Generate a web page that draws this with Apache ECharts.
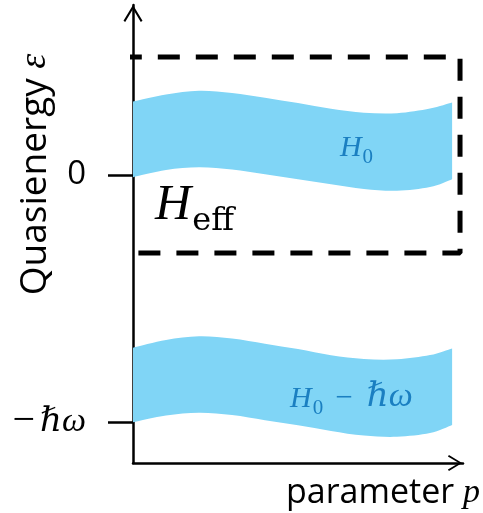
<!DOCTYPE html>
<html><head><meta charset="utf-8">
<script src="https://cdn.jsdelivr.net/npm/echarts@6/dist/echarts.min.js"></script>
<style>html,body{margin:0;padding:0;background:#fff}#c{width:483px;height:513px}</style>
</head><body><div id="c"></div>
<script>
// ---- data ----
const bandX = [0, 0.1, 0.2, 0.3, 0.4, 0.5, 0.6, 0.7, 0.8, 0.9, 0.967];
const h0Upper = [0.297, 0.326, 0.341, 0.332, 0.313, 0.291, 0.268, 0.252, 0.250, 0.269, 0.293];
const h0Lower = [-0.009, 0.020, 0.031, 0.022, 0.003, -0.017, -0.038, -0.057, -0.064, -0.049, -0.017];
const shiftUpper = [-0.699, -0.668, -0.653, -0.662, -0.683, -0.705, -0.730, -0.745, -0.746, -0.729, -0.702];
const shiftLower = [-1.001, -0.974, -0.963, -0.972, -0.993, -1.013, -1.036, -1.055, -1.060, -1.045, -1.012];
const yTicks = [0, -1];
const yTickLabels = ['{d|0}', '{m|−}{w|ℏω}'];
const effBoxX = [-0.04, 0.991];
const effBoxY = [-0.316, 0.478];
const annotations = [
  {x: 0.627, y: 0.093, text: '{h|H}{s|0}'},
  {x: 0.476, y: -0.923, text: '{h|H}{s|0}{m|−}{w|ℏω}'},
  {x: 0.067, y: -0.150, text: '{H|H}{S|eff}'}
];

// ---- styles ----
const bandColor = '#80d5f6';
const labelBlue = '#1a7fc1';
const serif = "'Liberation Serif','DejaVu Serif',serif";
const serifWide = "'DejaVu Serif',serif";
const sans = "'Open Sans','Noto Sans',sans-serif";
const arrow = 'path://M9.5,0 L19,15.6 L17.3,16.8 L9.5,3.8 L1.7,16.8 L0,15.6 Z';

const bands = [
  {lower: h0Lower, upper: h0Upper},
  {lower: shiftLower, upper: shiftUpper}
];

// Catmull-Rom through screen points -> cubic bezier path segments
function curve(pts, moveFirst) {
  let d = (moveFirst ? 'M' : 'L') + pts[0][0] + ',' + pts[0][1];
  for (let i = 0; i < pts.length - 1; i++) {
    const p0 = pts[Math.max(i - 1, 0)], p1 = pts[i], p2 = pts[i + 1], p3 = pts[Math.min(i + 2, pts.length - 1)];
    const c1 = [p1[0] + (p2[0] - p0[0]) / 6, p1[1] + (p2[1] - p0[1]) / 6];
    const c2 = [p2[0] - (p3[0] - p1[0]) / 6, p2[1] - (p3[1] - p1[1]) / 6];
    d += 'C' + c1.join(',') + ' ' + c2.join(',') + ' ' + p2.join(',');
  }
  return d;
}

const bandRich = {
  h: {fontFamily: serif, fontStyle: 'italic', fontSize: 30, lineHeight: 32, color: labelBlue, verticalAlign: 'bottom', padding: [0, 1, 5, 0]},
  s: {fontFamily: serif, fontSize: 21, lineHeight: 23, color: labelBlue, verticalAlign: 'bottom'},
  m: {fontFamily: serif, fontSize: 31, lineHeight: 32, color: labelBlue, verticalAlign: 'bottom', padding: [0, 14, 5, 12]},
  w: {fontFamily: serif, fontStyle: 'italic', fontSize: 34, lineHeight: 32, color: labelBlue, verticalAlign: 'bottom', padding: [0, 0, 5, 0]},
  H: {fontFamily: serif, fontStyle: 'italic', fontSize: 50, lineHeight: 52, color: '#000', verticalAlign: 'bottom', padding: [0, 1, 7, 0]},
  S: {fontFamily: serifWide, fontSize: 32, lineHeight: 38, color: '#000', verticalAlign: 'bottom'}
};

const chart = echarts.init(document.getElementById('c'), null, {renderer: 'canvas'});
chart.setOption({
  animation: false,
  backgroundColor: '#fff',
  grid: {left: 133, right: 20, top: 5, bottom: 50, containLabel: false, outerBoundsMode: 'none'},
  xAxis: {
    type: 'value', min: 0, max: 1,
    axisLine: {show: true, onZero: false, symbol: ['none', arrow], symbolSize: [16, 16], symbolOffset: [0, -8],
      lineStyle: {color: '#000', width: 2.5}},
    axisTick: {show: false}, axisLabel: {show: false}, splitLine: {show: false},
    name: '{a|parameter }{p|p}', nameLocation: 'end', nameGap: 17, nameMoveOverlap: false,
    nameTextStyle: {align: 'right', verticalAlign: 'top', padding: [10, 0, 0, 0],
      rich: {a: {fontFamily: sans, fontSize: 34, lineHeight: 40, color: '#000'},
             p: {fontFamily: serif, fontStyle: 'italic', fontSize: 34, lineHeight: 40, color: '#000'}}}
  },
  yAxis: {
    type: 'value', min: -1.166, max: 0.688,
    axisLine: {show: true, onZero: false, symbol: ['none', arrow], symbolSize: [19, 17], symbolOffset: [0, -8.5],
      lineStyle: {color: '#000', width: 2.5}},
    axisTick: {show: true, customValues: yTicks, inside: false, length: 25, lineStyle: {color: '#000', width: 2.5}},
    axisLabel: {show: true, customValues: yTicks, margin: 47,
      formatter: v => yTickLabels[yTicks.indexOf(v)] || '',
      rich: {d: {fontFamily: sans, fontSize: 33, color: '#000'},
             m: {fontFamily: serif, fontSize: 40, color: '#000', padding: [0, 5, 0, 0]},
             w: {fontFamily: serif, fontStyle: 'italic', fontSize: 34, color: '#000'}}},
    splitLine: {show: false},
    name: '{a|Quasienergy}{g|  }{e|ε}', nameLocation: 'middle', nameRotate: 90, nameGap: 76, nameMoveOverlap: false,
    nameTextStyle: {padding: [0, 0, 0, 119],
      rich: {a: {fontFamily: sans, fontSize: 37, lineHeight: 44, color: '#000'},
             g: {fontFamily: sans, fontSize: 18, lineHeight: 44},
             e: {fontFamily: serif, fontStyle: 'italic', fontSize: 38, lineHeight: 44, color: '#000'}}}
  },
  series: [
    {type: 'custom', name: 'bands', coordinateSystem: 'cartesian2d', clip: false, silent: true, z: 2,
     data: bands.map((b, i) => [0.5, b.upper[5], i]),
     encode: {x: 0, y: 1},
     renderItem: function (params, api) {
       const b = bands[api.value(2)];
       const up = bandX.map((x, i) => api.coord([x, b.upper[i]]));
       const lo = bandX.map((x, i) => api.coord([x, b.lower[i]])).reverse();
       const d = curve(up, true) + curve(lo, false) + 'Z';
       return {type: 'path', shape: {pathData: d, layout: 'cover'},
               style: {fill: bandColor, stroke: null}};
     }},
    {type: 'line', name: 'Heff box', clip: false, symbol: 'none', silent: true, z: 5,
     lineStyle: {color: '#000', width: 5, type: [22, 16]},
     data: [[effBoxX[0], effBoxY[1]], [effBoxX[1], effBoxY[1]], [effBoxX[1], effBoxY[0]],
            [effBoxX[0], effBoxY[0]], [effBoxX[0], effBoxY[1]]]},
    {type: 'scatter', name: 'labels', symbolSize: 0, silent: true, z: 6, clip: false,
     itemStyle: {opacity: 1},
     data: annotations.map(a => ({value: [a.x, a.y], label: {formatter: a.text}})),
     label: {show: true, position: 'inside', align: 'left', verticalAlign: 'middle', opacity: 1, rich: bandRich}}
  ]
});
</script></body></html>
